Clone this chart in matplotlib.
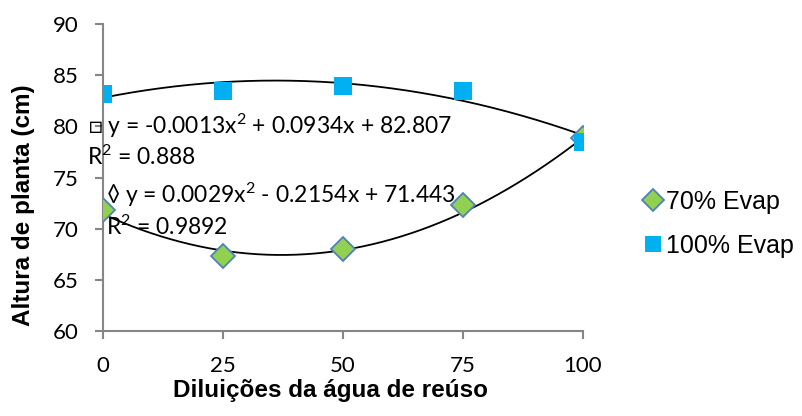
import numpy as np
import matplotlib
matplotlib.use("Agg")
import matplotlib.pyplot as plt

plt.rcParams["mathtext.fontset"] = "custom"
plt.rcParams["mathtext.rm"] = "Lato"
plt.rcParams["mathtext.it"] = "Lato:italic"
plt.rcParams["mathtext.bf"] = "Lato:bold"

# Dilution levels of reuse water (%)
diluicoes = [0, 25, 50, 75, 100]
x_ticks = [0, 25, 50, 75, 100]
y_ticks = [60, 65, 70, 75, 80, 85, 90]

# Plant height (cm) per irrigation level
altura_70 = [71.8, 67.3, 68.0, 72.3, 78.9]
altura_100 = [83.2, 83.5, 84.0, 83.5, 78.5]

# Quadratic trendline coefficients (a, b, c) and R²
coef_70 = [0.0029, -0.2154, 71.443]
r2_70 = 0.9892
coef_100 = [-0.0013, 0.0934, 82.807]
r2_100 = 0.888

series_labels = ["70% Evap", "100% Evap"]

gray = "#868686"
fig = plt.figure(figsize=(8.03, 4.16), dpi=100)
ax = fig.add_axes([0.1283, 0.204, 0.5977, 0.738])

xx = np.linspace(0, 100, 300)
ax.plot(xx, np.polyval(coef_100, xx), color="black", lw=1.3, zorder=2)
ax.plot(xx, np.polyval(coef_70, xx), color="black", lw=1.3, zorder=2)

ax.plot(diluicoes, altura_70, linestyle="none", marker="D", ms=12.5,
        mfc="#92D050", mec="#4F81BD", mew=1.3, label=series_labels[0], zorder=3)
ax.plot(diluicoes, altura_100, linestyle="none", marker="s", ms=13.5,
        mfc="#00B0F0", mec="#00B0F0", mew=0, label=series_labels[1], zorder=4)

ax.set_xlim(0, 100)
ax.set_ylim(60, 90)
ax.set_xticks(x_ticks)
ax.set_yticks(y_ticks)
for s in ["top", "right"]:
    ax.spines[s].set_visible(False)
for s in ["left", "bottom"]:
    ax.spines[s].set_color(gray)
    ax.spines[s].set_linewidth(1.5)
    ax.spines[s].set_clip_on(False)
ax.tick_params(axis="both", color=gray, width=1.5, length=5.7, direction="out")
ax.tick_params(axis="x", labelsize=16, pad=12)
ax.tick_params(axis="y", labelsize=16, pad=12)
for lab in ax.get_xticklabels() + ax.get_yticklabels():
    lab.set_family("Lato")

ax.set_xlabel("Diluições da água de reúso", family="Liberation Sans",
              fontweight="bold", fontsize=17.5, va="baseline")
ax.xaxis.set_label_coords(0.473, -0.215)
ax.set_ylabel("Altura de planta (cm)", family="Liberation Sans",
              fontweight="bold", fontsize=17.5, va="center")
ax.yaxis.set_label_coords(-0.166, 0.41)

def fmt_eq(c):
    a, b, k = c
    sb = "+" if b >= 0 else "-"
    return f"y = {a:g}x$^2$ {sb} {abs(b):g}x + {k:g}"

tfont = dict(family=["Lato", "DejaVu Sans"], fontsize=16.5, color="black", zorder=5)
ax.text(-3.1, 80.1, "□ " + fmt_eq(coef_100), va="center", ha="left", **tfont)
ax.text(-3.3, 77.0, f"R$^2$ = {r2_100:g}", va="center", ha="left", **tfont)
ax.text(0.6, 73.3, "◊ " + fmt_eq(coef_70), va="center", ha="left", **tfont)
ax.text(0.6, 70.2, f"R$^2$ = {r2_70:g}", va="center", ha="left", **tfont)

leg = ax.legend(loc="center left", bbox_to_anchor=(1.12, 0.349), frameon=False,
                prop={"family": "Liberation Sans", "size": 18},
                handletextpad=0.0, labelspacing=0.78, handlelength=1.0,
                borderpad=0, borderaxespad=0, markerscale=0.9)

fig.savefig("out.png", dpi=100)
